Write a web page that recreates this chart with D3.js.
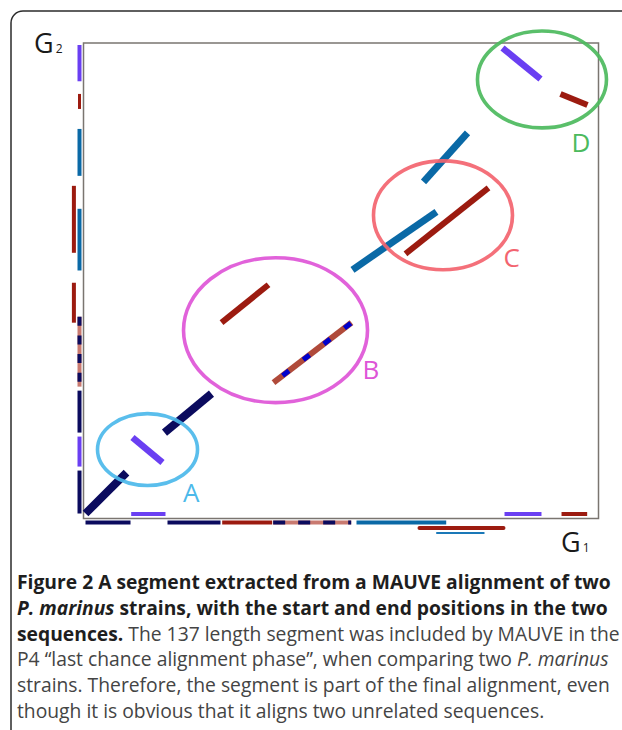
<!DOCTYPE html>
<html>
<head>
<meta charset="utf-8">
<script src="https://cdn.jsdelivr.net/npm/d3@7"></script>
<style>
  body { margin: 0; background: #fff; }
  svg { display: block; }
</style>
</head>
<body>
<svg id="fig" width="622" height="730"></svg>
<script>
// ===== DATA =====
// alignment segments on the dot plot: [g1Start, g2Start, g1End, g2End, kind]
const segments = [
    [4, 10.5, 83.5, 96.6, 'navy'],
    [157.3, 180.7, 248.5, 262.6, 'navy'],
    [95.1, 170.2, 153.4, 117.6, 'purple'],
    [268, 411.8, 359.2, 491.6, 'red'],
    [368.9, 285.7, 520.4, 411.8, 'mixed'],
    [522.3, 523.1, 685.4, 645, 'blue'],
    [625.2, 556.7, 786.4, 695.4, 'red'],
    [660.2, 708, 745.6, 810.9, 'blue'],
    [813.6, 989.5, 887.4, 924.4, 'purple'],
    [926.2, 892.9, 978.6, 869.7, 'red']
];

// block extents along G1 (bottom): [start, end, kind, strand]
const g1Blocks = [
    [3.9, 91.3, 'navy', '+'],
    [92.6, 159.2, 'purple', '-'],
    [163.1, 266, 'navy', '+'],
    [269.3, 366.4, 'red', '+'],
    [368.3, 519.8, 'mixed', '+'],
    [530.1, 704.3, 'blue', '+'],
    [652.4, 815.5, 'red', '+'],
    [684.9, 778.6, 'blueThin', '+'],
    [817.5, 889.3, 'purple', '-'],
    [928.2, 978, 'red', '-']
];

// block extents along G2 (left): [start, end, kind]
const g2Blocks = [
    [10.5, 100.8, 'navy'],
    [109.2, 172.3, 'purple'],
    [180.7, 268.9, 'navy'],
    [277.3, 424.4, 'mixed'],
    [411.8, 495.8, 'red'],
    [521.6, 651.3, 'blue'],
    [558.8, 699.6, 'red'],
    [720.6, 819.3, 'blue'],
    [861.3, 892.9, 'redThin'],
    [919.5, 995.8, 'purple']
];

// highlighted regions
const regionNames = ['A', 'B', 'C', 'D'];
const regionG1 = [[27.2, 221.4], [194.2, 551.5], [563.1, 833], [765, 1015.5]];
const regionG2 = [[69.3, 220.6], [243.7, 548.3], [523.1, 752.1], [821.4, 1025.2]];
const regionLabelAt = [[193.2, 35.7], [541.7, 294.1], [815.5, 529.4], [947.6, 771]];

const captionLines = [
    [['Figure 2 A segment extracted from a MAUVE alignment of two', 'b']],
    [['P. marinus', 'bi'], [' strains, with the start and end positions in the two', 'b']],
    [['sequences.', 'b'], [' The 137 length segment was included by MAUVE in the', 'r']],
    [['P4 \u201clast chance alignment phase\u201d, when comparing two ', 'r'], ['P. marinus', 'i']],
    [['strains. Therefore, the segment is part of the final alignment, even', 'r']],
    [['though it is obvious that it aligns two unrelated sequences.', 'r']]
];

// ===== STYLES =====
const COLORS = {
    navy: '#0b0b5e',
    purple: '#6a3ff2',
    red: '#9c1b10',
    redThin: '#9c1b10',
    blue: '#0a69a6',
    blueThin: '#1a78b8',
    mixedSeg: '#b04a3a',
    mixedSegDash: '#0000cc',
    mixedBar: '#c97a70',
    mixedBarDash: '#0b0b5e'
};
const SEG_WIDTH = { navy: 8, blue: 7, red: 6, purple: 6.5, mixed: 6 };
const BAR_WIDTH = { blueThin: 2.2, redThin: 3 };
const REGION_COLORS = ['#4cb9ea', '#de55d7', '#f3646f', '#4cba5d'];

// ===== SCALES =====
const x = d3.scaleLinear().domain([0, 1000]).range([83.5, 598.5]);
const y = d3.scaleLinear().domain([0, 1000]).range([518.5, 43]);

const svg = d3.select('#fig');

// outer panel border (only top-left corner visible)
const border = d3.path();
border.moveTo(11, 750);
border.lineTo(11, 23);
border.arcTo(11, 11, 23, 11, 12);
border.lineTo(660, 11);
svg.append('path')
    .attr('d', border.toString())
    .attr('fill', 'none')
    .attr('stroke', '#2b2b2b')
    .attr('stroke-width', 1.5);

// plot frame
svg.append('rect')
    .attr('x', x(0))
    .attr('y', y(1000))
    .attr('width', x(1000) - x(0))
    .attr('height', y(0) - y(1000))
    .attr('fill', 'none')
    .attr('stroke', '#7a7570')
    .attr('stroke-width', 1.5);

// ===== SEGMENTS =====
const segG = svg.append('g');
segments.forEach(([a1, a2, b1, b2, kind]) => {
    const isMixed = kind === 'mixed';
    segG.append('line')
        .attr('x1', x(a1)).attr('y1', y(a2))
        .attr('x2', x(b1)).attr('y2', y(b2))
        .attr('stroke', isMixed ? COLORS.mixedSeg : COLORS[kind])
        .attr('stroke-width', SEG_WIDTH[kind]);
    if (isMixed) {
        segG.append('line')
            .attr('x1', x(a1)).attr('y1', y(a2))
            .attr('x2', x(b1)).attr('y2', y(b2))
            .attr('stroke', COLORS.mixedSegDash)
            .attr('stroke-width', 5)
            .attr('stroke-dasharray', '8 18')
            .attr('stroke-dashoffset', 14.5);
    }
});

// ===== BLOCK BARS =====
// greedy lane packing for overlapping blocks
function packLanes(blocks) {
    const ends = [];
    return blocks.map(b => {
        let lane = ends.findIndex(e => e <= b[0]);
        if (lane < 0) {
            lane = ends.length;
            ends.push(0);
        }
        ends[lane] = b[1];
        return lane;
    });
}

const barG = svg.append('g');

// bottom (G1)
const fwdBlocks = g1Blocks.filter(b => b[3] === '+');
const fwdLanes = packLanes(fwdBlocks);
const BOTTOM_LANES = [4, 9.5, 14.5];
g1Blocks.forEach(b => {
    const [s, e, kind, strand] = b;
    const lane = strand === '-' ? -1 : fwdLanes[fwdBlocks.indexOf(b)];
    const yy = lane < 0 ? y(0) - 4.5 : y(0) + BOTTOM_LANES[lane];
    const w = BAR_WIDTH[kind] || 4;
    const line = barG.append('line')
        .attr('x1', x(s)).attr('x2', x(e))
        .attr('y1', yy).attr('y2', yy)
        .attr('stroke', kind === 'mixed' ? COLORS.mixedBar : COLORS[kind])
        .attr('stroke-width', w);
    if (kind === 'red' && lane > 0) {
        line.attr('stroke-linecap', 'round');
    }
    if (kind === 'mixed') {
        barG.append('line')
            .attr('x1', x(s)).attr('x2', x(e))
            .attr('y1', yy).attr('y2', yy)
            .attr('stroke', COLORS.mixedBarDash)
            .attr('stroke-width', w)
            .attr('stroke-dasharray', '12 13');
    }
});

// left (G2)
const leftLanes = packLanes(g2Blocks);
const LEFT_LANES = [4, 9.6];
g2Blocks.forEach((b, i) => {
    const [s, e, kind] = b;
    const xx = x(0) - LEFT_LANES[leftLanes[i]];
    const w = BAR_WIDTH[kind] || 4;
    barG.append('line')
        .attr('x1', xx).attr('x2', xx)
        .attr('y1', y(e)).attr('y2', y(s))
        .attr('stroke', kind === 'mixed' ? COLORS.mixedBar : COLORS[kind])
        .attr('stroke-width', w);
    if (kind === 'mixed') {
        barG.append('line')
            .attr('x1', xx).attr('x2', xx)
            .attr('y1', y(e)).attr('y2', y(s))
            .attr('stroke', COLORS.mixedBarDash)
            .attr('stroke-width', w)
            .attr('stroke-dasharray', '9 9.7');
    }
});

// ===== REGIONS =====
const regG = svg.append('g');
regionNames.forEach((name, i) => {
    const [g1a, g1b] = regionG1[i];
    const [g2a, g2b] = regionG2[i];
    regG.append('ellipse')
        .attr('cx', (x(g1a) + x(g1b)) / 2)
        .attr('cy', (y(g2a) + y(g2b)) / 2)
        .attr('rx', Math.abs(x(g1b) - x(g1a)) / 2)
        .attr('ry', Math.abs(y(g2b) - y(g2a)) / 2)
        .attr('fill', 'none')
        .attr('stroke', REGION_COLORS[i])
        .attr('stroke-opacity', 0.92)
        .attr('stroke-width', 3.6);
    regG.append('text')
        .attr('x', x(regionLabelAt[i][0]))
        .attr('y', y(regionLabelAt[i][1]))
        .style('font-family', '"Open Sans", sans-serif')
        .style('font-size', '26px')
        .style('fill', REGION_COLORS[i])
        .text(name);
});

// ===== AXIS LABELS =====
function axisLabel(px, py, sub) {
    const t = svg.append('text')
        .attr('x', px).attr('y', py)
        .style('font-family', '"Open Sans", sans-serif')
        .style('fill', '#1a1a1a');
    t.append('tspan').style('font-size', '27px').text('G');
    t.append('tspan').attr('dx', 2).style('font-size', '12px').text(sub);
}
axisLabel(34, 52.5, '2');
axisLabel(561, 552, '1');

// ===== CAPTION =====
const capG = svg.append('g')
    .style('font-family', '"Open Sans", sans-serif');
const baseSize = 18;
const capTexts = captionLines.map((parts, i) => {
    const t = capG.append('text')
        .attr('x', 17)
        .attr('y', 589 + i * 25.8)
        .style('font-size', baseSize + 'px');
    parts.forEach(([str, st]) => {
        t.append('tspan')
            .attr('xml:space', 'preserve')
            .style('white-space', 'pre')
            .style('font-weight', st.includes('b') ? 700 : 400)
            .style('font-style', st.includes('i') ? 'italic' : 'normal')
            .style('fill', st.includes('b') ? '#1e1e1e' : '#444444')
            .text(str);
    });
    return t;
});
// fit caption so the first line spans the panel width
const w0 = capTexts[0].node().getComputedTextLength();
if (w0 > 0) {
    const fitted = baseSize * 594 / w0;
    capTexts.forEach(t => t.style('font-size', fitted + 'px'));
}
</script>
</body>
</html>
